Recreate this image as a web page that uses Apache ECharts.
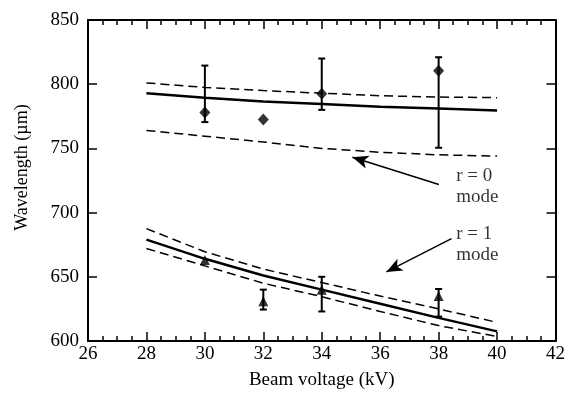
<!DOCTYPE html>
<html>
<head>
<meta charset="utf-8">
<script src="https://cdn.jsdelivr.net/npm/echarts@6/dist/echarts.min.js"></script>
<style>
  html, body { margin: 0; padding: 0; background: #fff; }
  #chart { width: 568px; height: 395px; }
</style>
</head>
<body>
<div id="chart"></div>
<script>
// beam voltage (kV) where the fit curves are sampled
const fitVoltage = [28, 30, 32, 34, 36, 38, 40];

// r = 0 mode: fit and its bounds
const r0Fit = [793, 789.5, 786.5, 784.5, 782.5, 781, 779.5];
const r0Upper = [801, 797.5, 795, 793, 791, 790, 789.5];
const r0Lower = [764, 759.5, 755, 750, 747, 745, 744];

// r = 1 mode: fit and its bounds
const r1Fit = [679, 664, 651, 640, 629, 618, 607.5];
const r1Upper = [687.5, 669.5, 656, 645.5, 635, 625, 614.5];
const r1Lower = [672, 658.5, 645, 634.5, 623, 612, 603.5];

// measured points [kV, wavelength]
const r0Points = [[30, 778], [32, 772.5], [34, 792.5], [38, 810.5]];
const r1Points = [[30, 663], [32, 631], [34, 640], [38, 635]];

// error bars [kV, low, high]
const r0Errors = [[30, 770.5, 814.5], [34, 780, 820], [38, 750.5, 821]];
const r1Errors = [[32, 624.5, 640], [34, 623, 650], [38, 619, 640.5]];

// annotations: arrow [from, to] and text anchor
const r0Arrow = [[38.01, 721.9], [35.05, 743.1]];
const r1Arrow = [[38.44, 679.7], [36.21, 653.8]];
const notes = [
  { pos: [38.6, 720.5], text: "r = 0\nmode" },
  { pos: [38.6, 675], text: "r = 1\nmode" }
];

const font = "Liberation Serif";
const pair = (ys) => fitVoltage.map((x, i) => [x, ys[i]]);

const chart = echarts.init(document.getElementById("chart"));

const tickStyle = { show: true, inside: true, length: 9, lineStyle: { color: "#000", width: 1.5 } };
const minorStyle = { show: true, splitNumber: 4, length: 5, lineStyle: { color: "#000", width: 1.5 } };

function errorBar(params, api) {
  const x = api.value(0);
  const top = api.coord([x, api.value(2)]);
  const bot = api.coord([x, api.value(1)]);
  const w = 3.5;
  const st = { stroke: "#000", lineWidth: 2 };
  return {
    type: "group",
    children: [
      { type: "line", shape: { x1: top[0], y1: top[1], x2: bot[0], y2: bot[1] }, style: st },
      { type: "line", shape: { x1: top[0] - w, y1: top[1], x2: top[0] + w, y2: top[1] }, style: st },
      { type: "line", shape: { x1: bot[0] - w, y1: bot[1], x2: bot[0] + w, y2: bot[1] }, style: st }
    ]
  };
}

function fitLine(data, dashed) {
  return {
    type: "line",
    data: data,
    showSymbol: false,
    silent: true,
    lineStyle: dashed
      ? { color: "#000", width: 1.5, type: [9, 5] }
      : { color: "#000", width: 2.5 }
  };
}

function arrow(coords) {
  return {
    type: "line",
    data: [],
    markLine: {
      silent: true,
      symbol: ["none", "arrow"],
      symbolSize: [10, 16],
      label: { show: false },
      lineStyle: { color: "#000", width: 1.5, type: "solid" },
      data: [[{ coord: coords[0] }, { coord: coords[1] }]]
    }
  };
}

const option = {
  animation: false,
  backgroundColor: "#fff",
  grid: { left: 88, right: 11, top: 20, bottom: 53 },
  xAxis: [
    {
      type: "value",
      min: 26,
      max: 42,
      interval: 2,
      name: "Beam voltage (kV)",
      nameLocation: "middle",
      nameGap: 30,
      nameTextStyle: { fontFamily: font, fontSize: 19, color: "#000" },
      axisLine: { lineStyle: { color: "#000", width: 2 } },
      axisTick: tickStyle,
      minorTick: minorStyle,
      splitLine: { show: false },
      axisLabel: { fontFamily: font, fontSize: 19, color: "#000", margin: 4 }
    },
    {
      type: "value",
      position: "top",
      min: 26,
      max: 42,
      interval: 2,
      axisLine: { lineStyle: { color: "#000", width: 2 } },
      axisTick: tickStyle,
      minorTick: minorStyle,
      splitLine: { show: false },
      axisLabel: { show: false }
    }
  ],
  yAxis: [
    {
      type: "value",
      min: 600,
      max: 850,
      interval: 50,
      name: "Wavelength (µm)",
      nameLocation: "middle",
      nameGap: 57,
      nameTextStyle: { fontFamily: font, fontSize: 18, color: "#000", padding: [0, 0, 0, 26] },
      axisLine: { show: true, lineStyle: { color: "#000", width: 2 } },
      axisTick: tickStyle,
      splitLine: { show: false },
      axisLabel: { fontFamily: font, fontSize: 19, color: "#000", margin: 9 }
    },
    {
      type: "value",
      position: "right",
      min: 600,
      max: 850,
      interval: 50,
      axisLine: { show: true, lineStyle: { color: "#000", width: 2 } },
      axisTick: tickStyle,
      splitLine: { show: false },
      axisLabel: { show: false }
    }
  ],
  series: [
    fitLine(pair(r0Fit), false),
    fitLine(pair(r0Upper), true),
    fitLine(pair(r0Lower), true),
    fitLine(pair(r1Fit), false),
    fitLine(pair(r1Upper), true),
    fitLine(pair(r1Lower), true),
    {
      type: "custom",
      renderItem: errorBar,
      encode: { x: 0, y: [1, 2] },
      data: r0Errors.concat(r1Errors),
      silent: true
    },
    {
      type: "scatter",
      data: r0Points,
      symbol: "diamond",
      symbolSize: [11, 12],
      itemStyle: { color: "#000" }
    },
    {
      type: "scatter",
      data: r1Points,
      symbol: "triangle",
      symbolSize: [10, 10],
      itemStyle: { color: "#000" }
    },
    arrow(r0Arrow),
    arrow(r1Arrow),
    {
      type: "scatter",
      data: notes.map((n) => ({ value: n.pos, text: n.text })),
      symbolSize: 0,
      silent: true,
      label: {
        show: true,
        position: "right",
        distance: 0,
        formatter: (p) => p.data.text,
        fontFamily: font,
        fontSize: 19,
        lineHeight: 21,
        color: "#000"
      }
    }
  ]
};

chart.setOption(option);
</script>
</body>
</html>
